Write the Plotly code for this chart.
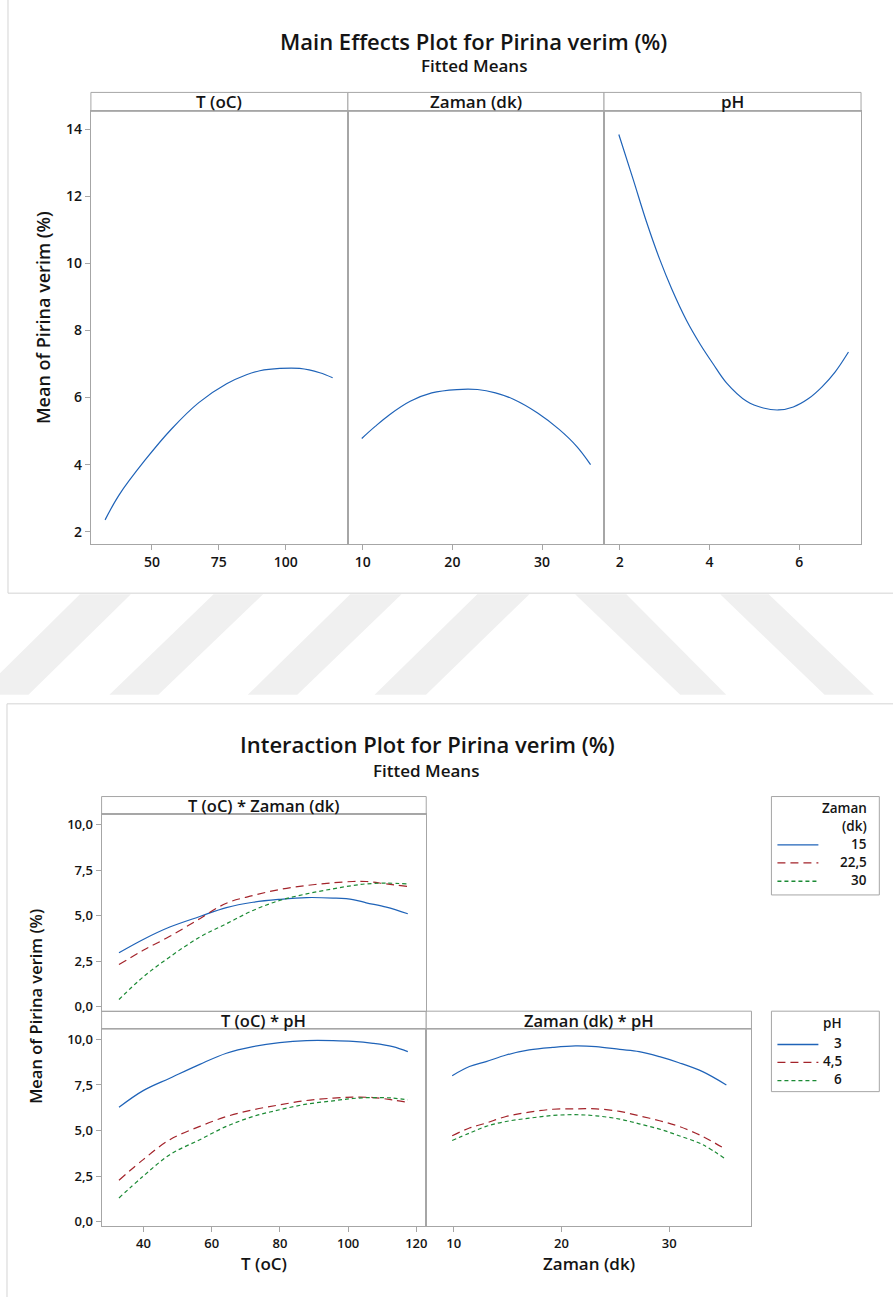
import plotly.graph_objects as go

W, H = 894, 1301

# ---------------- DATA ----------------
# Main effects (fitted means)
me_T_x = [32.5, 37.7, 47.4, 57.4, 67.5, 77.9, 85.3, 90.3, 97.8, 105.2, 112.7, 117.5]
me_T_y = [2.35, 3.09, 4.13, 5.07, 5.85, 6.41, 6.68, 6.80, 6.87, 6.87, 6.74, 6.59]

me_Z_x = [9.9, 11.4, 13.0, 15.3, 17.7, 20.5, 22.8, 24.8, 26.8, 29.5, 31.9, 33.9, 35.4]
me_Z_y = [4.78, 5.14, 5.49, 5.89, 6.14, 6.24, 6.24, 6.14, 5.95, 5.54, 5.05, 4.53, 4.00]

me_pH_x = [1.98, 2.30, 2.60, 2.89, 3.16, 3.49, 3.79, 4.08, 4.38, 4.83, 5.20, 5.54, 5.87, 6.21, 6.51, 6.80, 7.10]
me_pH_y = [13.85, 12.51, 11.23, 10.13, 9.24, 8.30, 7.60, 7.01, 6.44, 5.89, 5.69, 5.63, 5.72, 5.97, 6.32, 6.76, 7.36]

# Interaction: T * Zaman
int_T_x = [32.8, 39.9, 47.7, 56.5, 64.3, 72.1, 79.9, 87.8, 95.6, 101.4, 105.3, 111.2, 117.5]
tz_15 = [2.97, 3.70, 4.38, 4.96, 5.45, 5.74, 5.90, 6.00, 5.97, 5.89, 5.71, 5.47, 5.11]
tz_225 = [2.32, 3.10, 3.87, 4.84, 5.69, 6.11, 6.44, 6.66, 6.81, 6.88, 6.88, 6.75, 6.61]
tz_30 = [0.40, 1.64, 2.74, 3.83, 4.56, 5.29, 5.84, 6.20, 6.48, 6.66, 6.75, 6.79, 6.75]

# Interaction: T * pH
tp_x = [32.8, 39.9, 47.7, 56.5, 64.3, 72.1, 79.9, 87.8, 95.6, 101.4, 107.3, 113.1, 117.5]
tp_3 = [6.28, 7.19, 7.87, 8.63, 9.24, 9.60, 9.82, 9.93, 9.93, 9.89, 9.78, 9.60, 9.33]
tp_45 = [2.28, 3.41, 4.50, 5.23, 5.77, 6.14, 6.41, 6.65, 6.78, 6.83, 6.81, 6.68, 6.54]
tp_6 = [1.31, 2.50, 3.68, 4.50, 5.23, 5.77, 6.14, 6.45, 6.63, 6.76, 6.81, 6.78, 6.68]

# Interaction: Zaman * pH
zp_x = [9.85, 11.45, 13.0, 14.85, 17.0, 19.2, 21.3, 23.2, 25.4, 27.2, 29.1, 30.9, 33.1, 35.3]
zp_3 = [8.01, 8.51, 8.78, 9.14, 9.42, 9.56, 9.64, 9.60, 9.45, 9.33, 9.05, 8.72, 8.23, 7.50]
zp_45 = [4.72, 5.14, 5.41, 5.77, 6.01, 6.17, 6.19, 6.19, 6.05, 5.81, 5.54, 5.23, 4.68, 3.95]
zp_6 = [4.46, 4.86, 5.23, 5.50, 5.68, 5.83, 5.87, 5.81, 5.63, 5.37, 5.08, 4.72, 4.23, 3.41]

zaman_levels = ["15", "22,5", "30"]
ph_levels = ["3", "4,5", "6"]
top_ticks = [2, 4, 6, 8, 10, 12, 14]
bot_ticks = [0, 2.5, 5, 7.5, 10]
bot_ticktext = ["0,0", "2,5", "5,0", "7,5", "10,0"]

# ---------------- STYLE ----------------
FONT = "Open Sans"
BLUE = "#1F63B8"
RED = "#A3232A"
GREEN = "#1B8A34"
GRID = "#A6A6A6"
DASH_RED = "8px,5px"
DASH_GREEN = "4px,3px"
TXT = "#141414"


def px(x):
    return x / W


def py(y):
    return 1 - y / H


fig = go.Figure()

# main effects traces
for xs, ys, xa, ya in [(me_T_x, me_T_y, "x", "y"), (me_Z_x, me_Z_y, "x2", "y2"), (me_pH_x, me_pH_y, "x3", "y3")]:
    fig.add_trace(go.Scatter(x=xs, y=ys, mode="lines", line=dict(color=BLUE, width=1.2, shape="spline"),
                             xaxis=xa, yaxis=ya, showlegend=False))

styles = [(BLUE, "solid"), (RED, DASH_RED), (GREEN, DASH_GREEN)]
for ys, (c, d) in zip([tz_15, tz_225, tz_30], styles):
    fig.add_trace(go.Scatter(x=int_T_x, y=ys, mode="lines", line=dict(color=c, width=1.2, dash=d, shape="spline"), xaxis="x4", yaxis="y4", showlegend=False))
for ys, (c, d) in zip([tp_3, tp_45, tp_6], styles):
    fig.add_trace(go.Scatter(x=tp_x, y=ys, mode="lines", line=dict(color=c, width=1.2, dash=d, shape="spline"), xaxis="x5", yaxis="y5", showlegend=False))
for ys, (c, d) in zip([zp_3, zp_45, zp_6], styles):
    fig.add_trace(go.Scatter(x=zp_x, y=ys, mode="lines", line=dict(color=c, width=1.2, dash=d, shape="spline"), xaxis="x6", yaxis="y6", showlegend=False))

axbase = dict(showline=True, mirror=True, linecolor=GRID, linewidth=1, showgrid=False, zeroline=False,
              ticks="outside", ticklen=5, tickcolor=GRID,
              tickfont=dict(family=FONT, size=14, color=TXT, weight=600))

top_dom = [py(545.7), py(111.7)]
layout = dict(
    width=W, height=H, margin=dict(l=0, r=0, t=0, b=0),
    paper_bgcolor="white", plot_bgcolor="white", showlegend=False,
    xaxis=dict(axbase, domain=[px(91), px(348.3)], range=[27.2, 123.2], tickvals=[50, 75, 100], anchor="y"),
    xaxis2=dict(axbase, domain=[px(348.3), px(604.7)], range=[8.36, 36.9], tickvals=[10, 20, 30], anchor="y2"),
    xaxis3=dict(axbase, domain=[px(604.7), px(862)], range=[1.65, 7.38], tickvals=[2, 4, 6], anchor="y3"),
    yaxis=dict(axbase, domain=top_dom, range=[1.63, 14.54], tickvals=top_ticks, anchor="x"),
    yaxis2=dict(axbase, domain=top_dom, range=[1.63, 14.54], showticklabels=False, ticks="", anchor="x2"),
    yaxis3=dict(axbase, domain=top_dom, range=[1.63, 14.54], showticklabels=False, ticks="", anchor="x3"),
)

bfont = dict(family=FONT, size=13, color=TXT, weight=600)
tl_dom_x = [px(101.7), px(426.7)]
r_dom_x = [px(426.7), px(752.3)]
row1 = [py(1014.3), py(817)]
row2 = [py(1230), py(1032.3)]
layout.update(
    xaxis4=dict(axbase, domain=tl_dom_x, range=[27.7, 122.9], showticklabels=False, ticks="", anchor="y4"),
    yaxis4=dict(axbase, domain=row1, range=[-0.24, 10.56], tickvals=bot_ticks, ticktext=bot_ticktext, tickfont=bfont, anchor="x4"),
    xaxis5=dict(axbase, domain=tl_dom_x, range=[27.7, 122.9], tickvals=[40, 60, 80, 100, 120], tickfont=bfont, anchor="y5"),
    yaxis5=dict(axbase, domain=row2, range=[-0.24, 10.56], tickvals=bot_ticks, ticktext=bot_ticktext, tickfont=bfont, anchor="x5"),
    xaxis6=dict(axbase, domain=r_dom_x, range=[7.44, 37.63], tickvals=[10, 20, 30], tickfont=bfont, anchor="y6"),
    yaxis6=dict(axbase, domain=row2, range=[-0.24, 10.56], showticklabels=False, ticks="", anchor="x6"),
)
fig.update_layout(**layout)

shapes = []
annots = []


def rect(x0, y0, x1, y1, color=GRID, fill="white"):
    shapes.append(dict(type="rect", xref="paper", yref="paper", x0=px(x0), x1=px(x1), y0=py(y1), y1=py(y0),
                       line=dict(color=color, width=1), fillcolor=fill, layer="below"))


def hline(x0, x1, y, color, dash="solid", width=1.0):
    shapes.append(dict(type="line", xref="paper", yref="paper", x0=px(x0), x1=px(x1), y0=py(y), y1=py(y),
                       line=dict(color=color, width=width, dash=dash)))


def vline(x, y0, y1, color, width=1.0):
    shapes.append(dict(type="line", xref="paper", yref="paper", x0=px(x), x1=px(x), y0=py(y0), y1=py(y1),
                       line=dict(color=color, width=width), layer="below"))


def text(x, y, s, size, weight=400, xanchor="center", angle=0):
    annots.append(dict(xref="paper", yref="paper", x=px(x), y=py(y), text=s, showarrow=False,
                       xanchor=xanchor, yanchor="middle", textangle=angle,
                       font=dict(family=FONT, size=size, color=TXT, weight=weight)))


# watermark stripes in the gap between the two images
stripes = [((80, 131), (-22, 28.5)), ((213.8, 263.4), (109.5, 158.5)), ((350.6, 402), (248, 297.6)),
           ((477.8, 530), (375, 426.5)), ((575.8, 627), (681, 727)), ((721, 769.6), (825.5, 875))]
for (t0, t1), (b0, b1) in stripes:
    path = f"M {px(t0)} {py(596)} L {px(t1)} {py(596)} L {px(b1)} {py(697)} L {px(b0)} {py(697)} Z"
    shapes.append(dict(type="path", xref="paper", yref="paper", path=path, fillcolor="#F0F0F0",
                       line=dict(width=0), layer="below"))

# image frames
vline(8, 0, 595, "#D4D4D4")
hline(8, 894, 595, "#D4D4D4")
hline(7, 894, 706, "#D4D4D4")
vline(7, 706, 1301, "#D4D4D4")

# ---- top chart ----
text(474.5, 41, "Main Effects Plot for Pirina verim (%)", 22, 600)
text(475, 66, "Fitted Means", 17, 600)
for (x0, x1), lab in zip([(91, 348.3), (348.3, 604.7), (604.7, 862)], ["T (oC)", "Zaman (dk)", "pH"]):
    rect(x0, 92.7, x1, 111.7)
    text((x0 + x1) / 2, 102, lab, 17, 600)
text(43, 318, "Mean of Pirina verim (%)", 18, 600, angle=-90)

# ---- bottom chart ----
text(427.5, 746.5, "Interaction Plot for Pirina verim (%)", 22, 600)
text(426, 772.5, "Fitted Means", 17, 600)
rect(101.7, 799, 426.7, 817)
text(264.2, 808, "T (oC) * Zaman (dk)", 16.5, 600)
rect(101.7, 1014.3, 426.7, 1032.3)
text(264.2, 1023.3, "T (oC) * pH", 16.5, 600)
rect(426.7, 1014.3, 752.3, 1032.3)
text(589.5, 1023.3, "Zaman (dk) * pH", 16.5, 600)
text(36, 1009, "Mean of Pirina verim (%)", 16.5, 600, angle=-90)
text(264.2, 1267, "T (oC)", 17, 600)
text(589.5, 1267, "Zaman (dk)", 17, 600)

# legends
LEG = 13.5
rect(772.3, 799, 880.3, 897.7)
text(870, 810, "Zaman", LEG, 600, xanchor="right")
text(870, 828.3, "(dk)", LEG, 600, xanchor="right")
for (c, d), lab, yy in zip(styles, zaman_levels, [847.5, 865.5, 884]):
    hline(778.3, 819.3, yy, c, d, 1.4)
    text(870, yy - 1, lab, LEG, 600, xanchor="right")

rect(772.3, 1014.3, 880.3, 1095)
text(845, 1026, "pH", LEG, 600, xanchor="right")
for (c, d), lab, yy in zip(styles, ph_levels, [1047.7, 1065.7, 1084]):
    hline(778.3, 819.3, yy, c, d, 1.4)
    text(845, yy - 1.5, lab, LEG, 600, xanchor="right")

fig.update_layout(shapes=shapes, annotations=annots)
fig.write_html("out.html", config={"displayModeBar": False},
               post_script="document.body.style.margin='0';document.body.style.padding='0';")
